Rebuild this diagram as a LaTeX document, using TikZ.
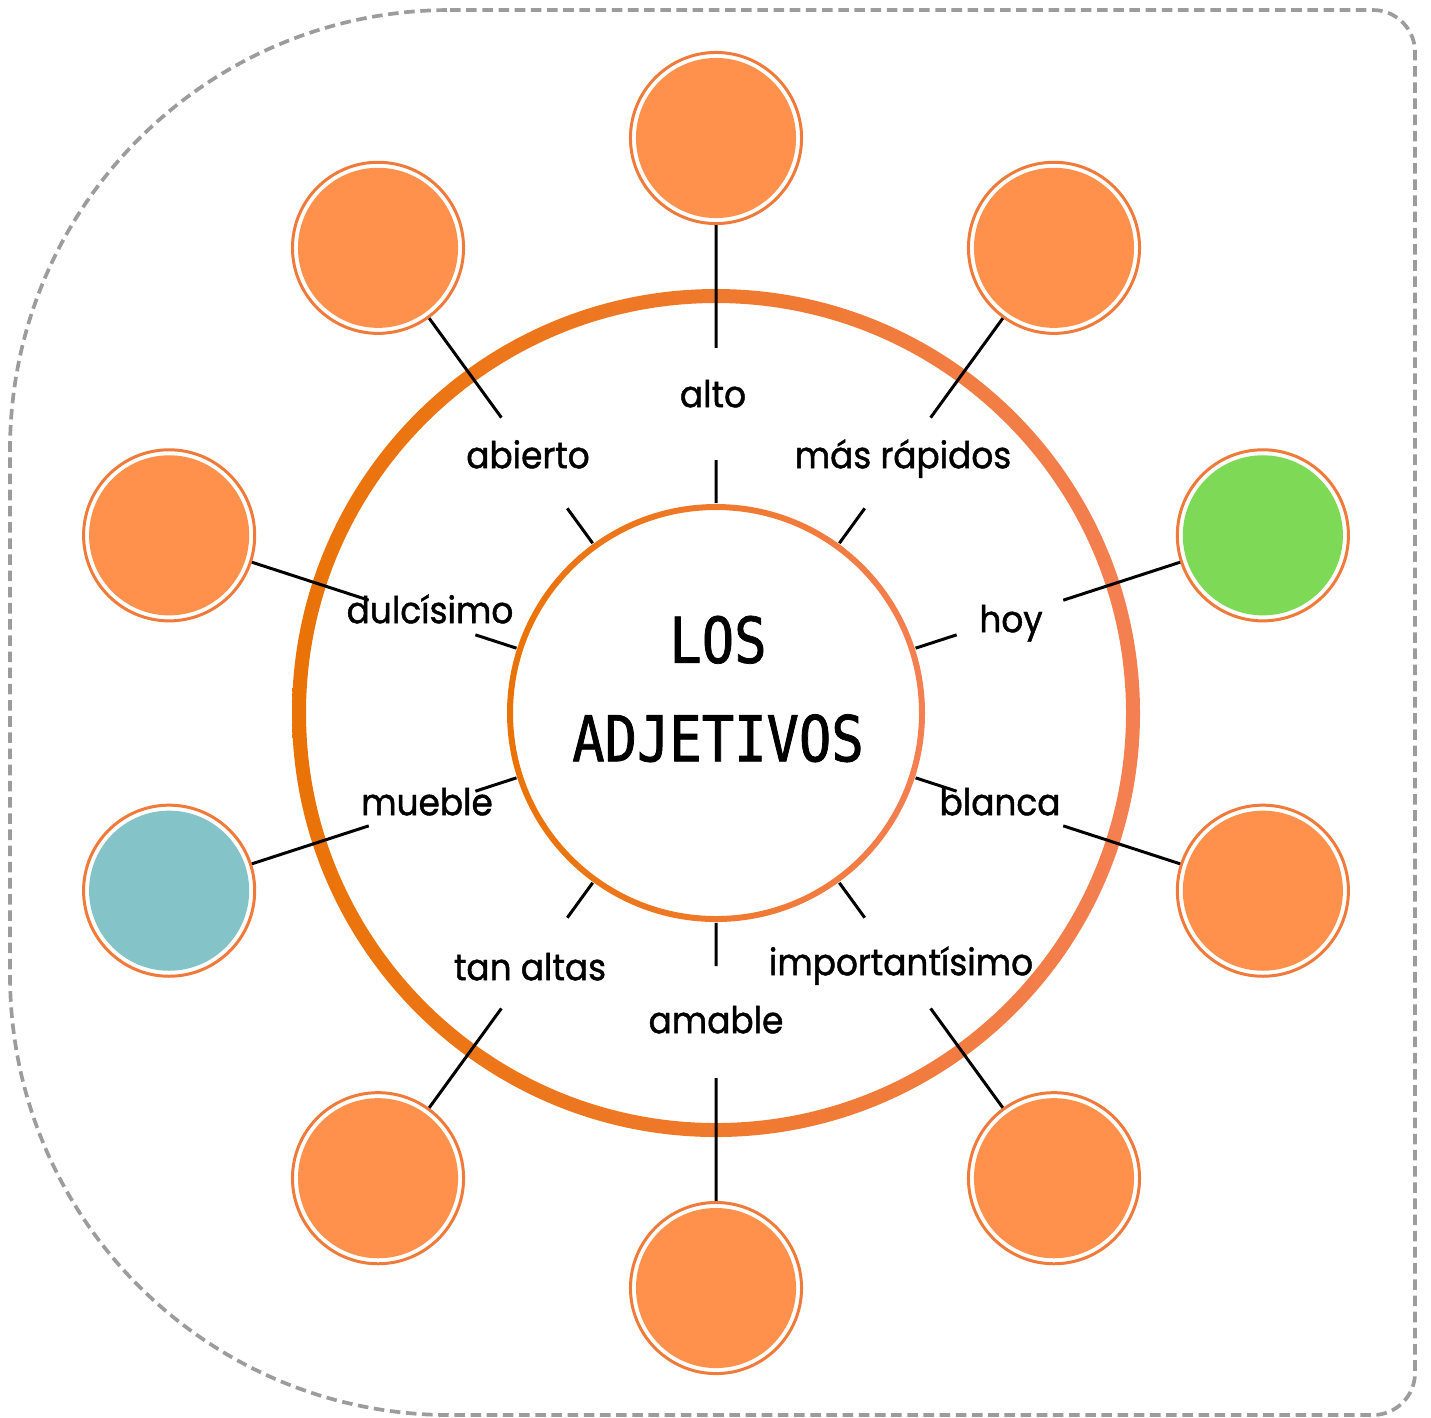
\documentclass[tikz,border=0pt]{standalone}
\usepackage{fontspec}
\setmainfont[FakeStretch=0.93, FakeBold=1.2]{Poppins}
\newfontfamily\titlefont[FakeStretch=0.85, FakeBold=1.2]{DejaVu Sans Mono}
\usetikzlibrary{calc}

\definecolor{dotorange}{HTML}{FF914D}
\definecolor{dotgreen}{HTML}{7ED957}
\definecolor{dotteal}{HTML}{84C3C7}
\definecolor{dotring}{HTML}{EF7A3A}
\definecolor{ringleft}{HTML}{EA7307}
\definecolor{ringright}{HTML}{F47F52}
\definecolor{framegray}{HTML}{9C9C9C}

\tikzset{
  dot/.style={circle, draw=dotring, line width=0.85pt, fill=white,
    minimum size=1.71cm, inner sep=0pt,
    path picture={\fill[#1] (path picture bounding box.center) circle (0.8cm);}},
  hub/.style={circle, minimum size=4.18cm, inner sep=0pt},
  spoke/.style={line width=0.85pt, black},
  lbl/.style={font=\fontsize{10.5}{12}\selectfont, text height=8pt, text depth=2.2pt, inner sep=0pt},
  frame/.style={draw=framegray, line width=1.05pt, dash pattern=on 3pt off 1.6pt}
}

\begin{document}
\begin{tikzpicture}[x=0.01cm, y=-0.01cm]
        \useasboundingbox (0,0) rectangle (1431,1417);

        % dashed outline
        \draw[frame] (450,10) -- (1373,10) .. controls (1396,10) and (1415,29) .. (1415,52)
            -- (1415,1373) .. controls (1415,1396) and (1396,1415) .. (1373,1415)
            -- (450,1415) .. controls (207,1415) and (10,1218) .. (10,975)
            -- (10,450) .. controls (10,207) and (207,10) .. (450,10) -- cycle;

        % big ring and hub
        \shade[left color=ringleft, right color=ringright, even odd rule]
            (716,713) circle (424) (716,713) circle (410);
        \node[hub] (adj) at (716,713) {};
        \shade[left color=ringleft, right color=ringright, even odd rule]
            (716,713) circle (209) (716,713) circle (203);
        \node[align=center, font=\titlefont\fontsize{18}{28}\selectfont] (ttl) at (718,689) {LOS\\ADJETIVOS};

        % outer circles
        \foreach \a/\col [count=\i] in {-90/dotorange, -54/dotorange, -18/dotgreen, 18/dotorange,
                54/dotorange, 90/dotorange, 126/dotorange, 162/dotteal, 198/dotorange, 234/dotorange} {
            \node[dot=\col] (c\i) at ($(716,713)+(\a:575)$) {};
            \coordinate (a\i) at ($(adj.center)!0.44!(c\i.center)$);
            \coordinate (b\i) at ($(adj.center)!0.635!(c\i.center)$);
            \draw[spoke] (adj) -- (a\i);
            \draw[spoke] (b\i) -- (c\i);
        }

        % words
        \foreach \x/\y/\txt [count=\i] in {713/397/alto, 903/458/más rápidos, 1011/622/hoy,
                1000/805/blanca, 901/965/importantísimo, 716/1023/amable, 530/970/tan altas,
                427/805/mueble, 430/613/dulcísimo, 528/458/abierto} {
            \node[lbl] (w\i) at (\x,\y) {\txt};
        }
    \end{tikzpicture}
\end{document}
